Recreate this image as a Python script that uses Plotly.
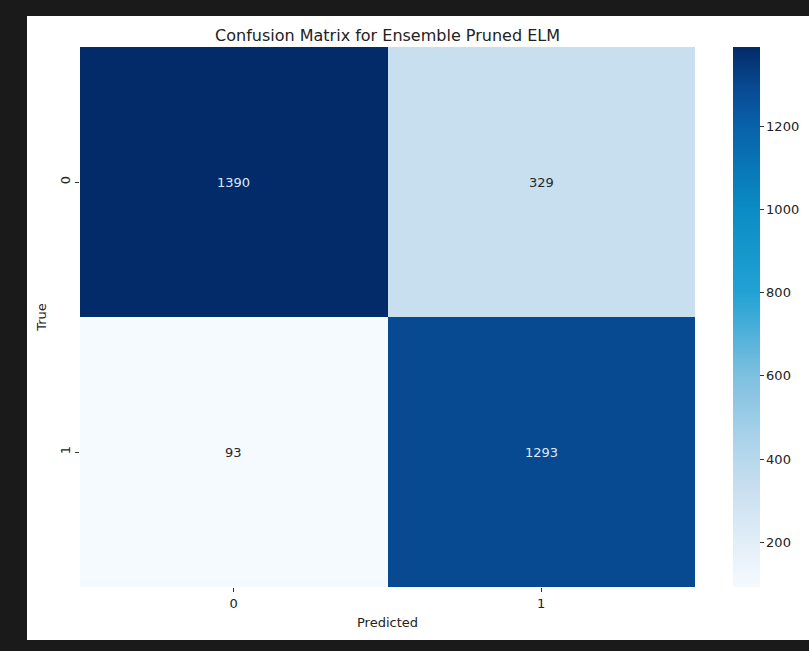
import plotly.graph_objects as go

# Data
pred_labels = ["0", "1"]
true_labels = ["0", "1"]
matrix = [[1390, 329],
          [93, 1293]]
cbar_ticks = [200, 400, 600, 800, 1000, 1200]

W, H = 809, 651
L, R, T, B = 80, 114, 47, 64
pw, ph = W - L - R, H - T - B

blues = [
    [0.0, "#f5faff"], [0.08, "#e3eef8"], [0.18, "#c9dff0"], [0.24, "#b6d8ec"],
    [0.39, "#7fc0e0"], [0.545, "#22a2d4"], [0.70, "#0a8cc4"], [0.854, "#0861aa"],
    [0.925, "#084a92"], [1.0, "#032a69"],
]

xs = list(range(len(pred_labels)))
ys = list(range(len(true_labels)))

zmin = min(min(r) for r in matrix)
zmax = max(max(r) for r in matrix)

fig = go.Figure()
fig.add_trace(go.Heatmap(
    z=matrix, x=xs, y=ys, colorscale=blues,
    zmin=zmin, zmax=zmax,
    xgap=0, ygap=0, hoverinfo="skip",
    colorbar=dict(
        x=1 + (733 - (L + pw)) / pw, xanchor="left", xpad=0, ypad=0,
        y=0.5, yanchor="middle", len=ph, lenmode="pixels",
        thickness=27, thicknessmode="pixels", outlinewidth=0,
        tickvals=cbar_ticks, ticks="outside", ticklen=4, tickcolor="#333",
        tickfont=dict(family="DejaVu Sans", size=13, color="#222"),
    ),
))

for i, row in enumerate(matrix):
    for j, v in enumerate(row):
        frac = (v - zmin) / (zmax - zmin)
        fig.add_annotation(x=xs[j], y=ys[i], text=str(v), showarrow=False,
                           font=dict(family="DejaVu Sans", size=13,
                                     color="#dfeaf6" if frac > 0.5 else "#262626"))

# white inner panel over dark frame
x0 = (27 - L) / pw
x1 = (W - L) / pw
y1 = (T + ph - 16) / ph
y0 = (T + ph - 640) / ph
fig.add_shape(type="rect", xref="paper", yref="paper", x0=x0, x1=x1, y0=y0, y1=y1,
              fillcolor="white", line=dict(width=0), layer="below")

fig.update_layout(
    width=W, height=H,
    margin=dict(l=L, r=R, t=T, b=B, autoexpand=False),
    paper_bgcolor="#1a1a1a", plot_bgcolor="white",
    font=dict(family="DejaVu Sans", color="#222"),
    title=dict(text="Confusion Matrix for Ensemble Pruned ELM",
               x=(L + pw / 2) / W, xanchor="center", xref="container",
               y=1 - 35 / H, yanchor="middle", yref="container",
               font=dict(family="DejaVu Sans", size=16, color="#222")),
    xaxis=dict(tickvals=xs, ticktext=pred_labels, range=[-0.5, 1.5],
               ticks="outside", ticklen=4, tickcolor="#333", showgrid=False,
               zeroline=False, showline=False,
               tickfont=dict(size=13, color="#222"),
               title=dict(text="Predicted", font=dict(size=13, color="#222"), standoff=8)),
    yaxis=dict(tickvals=ys, ticktext=true_labels, range=[1.5, -0.5],
               ticks="outside", ticklen=4, tickcolor="#333", showgrid=False,
               zeroline=False, showline=False, tickangle=-90,
               tickfont=dict(size=13, color="#222"),
               title=dict(text="True", font=dict(size=13, color="#222"), standoff=8)),
)

fig.write_html("out.html")
